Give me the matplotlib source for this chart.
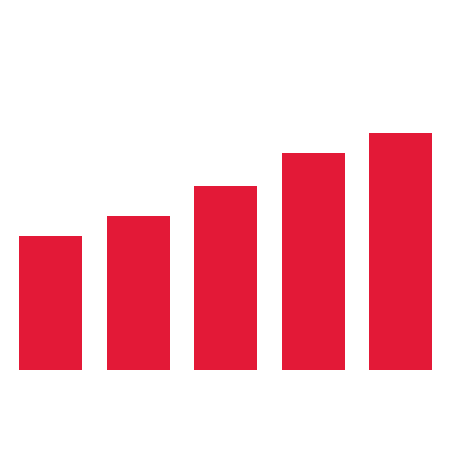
import matplotlib
matplotlib.use("Agg")
import matplotlib.pyplot as plt

# Bar values (no axis shown, read as relative heights)
categories = ["A", "B", "C", "D", "E"]
values = [134, 154, 184, 217, 237]

fig = plt.figure(figsize=(4.51, 4.50), dpi=100)
ax = fig.add_axes([6.75 / 451, 80 / 450, 437.5 / 451, 350 / 450])

ax.bar(range(len(categories)), values, width=0.72, color="#E31937")

ax.set_xlim(-0.5, len(categories) - 0.5)
ax.set_ylim(0, 350)
ax.axis("off")

fig.savefig("out.png", dpi=100, facecolor="white")
